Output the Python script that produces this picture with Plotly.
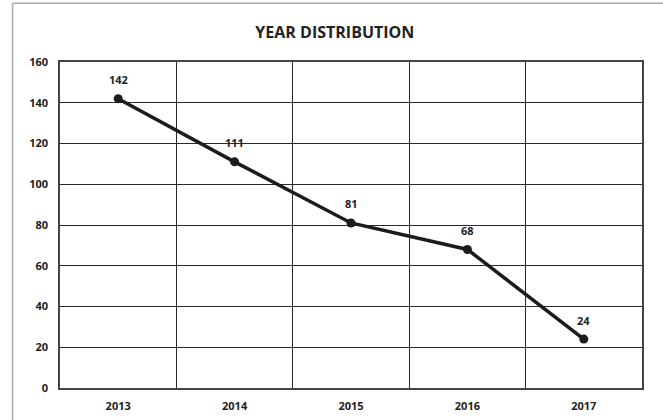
import plotly.graph_objects as go

years = ["2013", "2014", "2015", "2016", "2017"]
counts = [142, 111, 81, 68, 24]
y_ticks = [0, 20, 40, 60, 80, 100, 120, 140, 160]

font_family = "Open Sans, Lato, sans-serif"

fig = go.Figure()
fig.add_trace(go.Scatter(
    x=years, y=counts, mode="lines+markers",
    line=dict(color="#1c1c1c", width=3.5),
    marker=dict(color="#1c1c1c", size=9),
    cliponaxis=False, showlegend=False,
))

annotations = [
    dict(x=i, y=v, xref="x", yref="y", text="<b>%d</b>" % v, showarrow=False,
         yshift=19, font=dict(family=font_family, size=11, color="#222"))
    for i, v in enumerate(counts)
]

tickfont = dict(family=font_family, size=11, color="#222", weight="bold")

fig.update_layout(
    width=663, height=420,
    margin=dict(l=60, r=21, t=62, b=32),
    paper_bgcolor="white", plot_bgcolor="white",
    title=dict(text="<b>YEAR DISTRIBUTION</b>", x=0.505, xanchor="center",
               y=0.922, yanchor="middle",
               font=dict(family=font_family, size=16, color="#222")),
    font=dict(family=font_family, size=11, color="#222"),
    annotations=annotations,
    xaxis=dict(type="category", tickson="boundaries", showgrid=True,
               gridcolor="#2a2a2a", gridwidth=1.2, ticks="", range=[-0.5, 4.5],
               showline=True, linecolor="#444", linewidth=1.5, mirror=True,
               tickfont=tickfont, ticklabelstandoff=7, automargin=False),
    yaxis=dict(range=[0, 160], tickvals=y_ticks, showgrid=True,
               gridcolor="#2a2a2a", gridwidth=1.2, zeroline=False, ticks="",
               showline=True, linecolor="#444", linewidth=1.5, mirror=True,
               tickfont=tickfont, ticklabelstandoff=8, automargin=False),
    shapes=[
        dict(type="line", xref="paper", yref="paper", x0=-0.0815, x1=1.1,
             y0=1.18, y1=1.18, line=dict(color="#aaa", width=1.5)),
        dict(type="line", xref="paper", yref="paper", x0=-0.0815, x1=-0.0815,
             y0=1.18, y1=-0.2, line=dict(color="#aaa", width=1.5)),
    ],
)

fig.write_html("out.html")
